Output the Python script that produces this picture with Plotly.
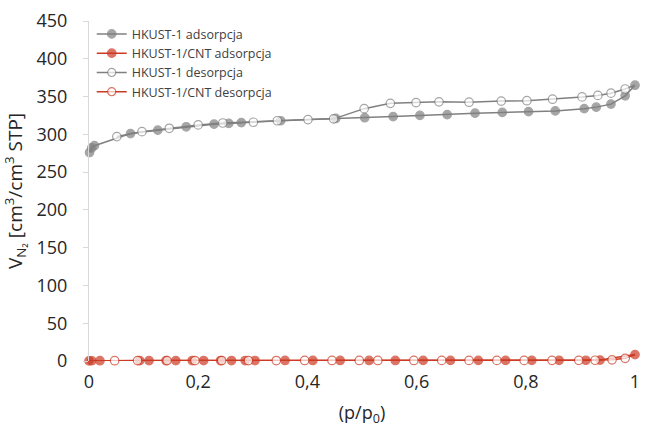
import plotly.graph_objects as go

# HKUST-1 adsorption
hk_ads_x = [0.001, 0.005, 0.01, 0.076, 0.126, 0.178, 0.229, 0.256, 0.279, 0.351, 0.452,
            0.505, 0.557, 0.606, 0.656, 0.707, 0.757, 0.805, 0.854, 0.907, 0.929, 0.956, 0.982, 1.0]
hk_ads_y = [276, 282, 285, 301, 305.5, 310, 313.5, 314.5, 315.5, 318, 321,
            322, 323.5, 325, 326, 328, 329, 330, 331, 334, 336, 340, 351, 365]
# HKUST-1 desorption (starts from the top point)
hk_des_x = [1.0, 0.982, 0.956, 0.932, 0.903, 0.849, 0.802, 0.755, 0.696, 0.641, 0.599, 0.552,
            0.504, 0.448, 0.401, 0.345, 0.301, 0.245, 0.2, 0.147, 0.097, 0.051]
hk_des_y = [365, 360, 354.5, 351.5, 349.5, 346.5, 344.5, 344, 342.5, 343, 342, 341,
            334, 320.5, 319.5, 318, 316, 315, 312.5, 308, 303.5, 297]
# HKUST-1/CNT adsorption
cnt_ads_x = [0.0, 0.005, 0.02, 0.093, 0.11, 0.141, 0.159, 0.189, 0.21, 0.241, 0.261, 0.286,
             0.304, 0.359, 0.41, 0.46, 0.513, 0.561, 0.612, 0.662, 0.713, 0.763, 0.811, 0.861,
             0.91, 0.936, 1.0]
cnt_ads_y = [0.2, 0.3, 0.4, 0.5, 0.5, 0.5, 0.5, 0.6, 0.6, 0.6, 0.6, 0.6,
             0.6, 0.7, 0.7, 0.7, 0.7, 0.7, 0.8, 0.8, 0.8, 0.8, 0.9, 0.9,
             1.0, 1.2, 8.5]
# HKUST-1/CNT desorption
cnt_des_x = [1.0, 0.982, 0.958, 0.927, 0.897, 0.848, 0.797, 0.747, 0.696, 0.646, 0.595, 0.529,
             0.495, 0.445, 0.395, 0.343, 0.292, 0.243, 0.194, 0.143, 0.089, 0.047]
cnt_des_y = [8.5, 3.5, 1.5, 1.0, 0.9, 0.9, 0.8, 0.8, 0.8, 0.8, 0.7, 0.7,
             0.7, 0.7, 0.7, 0.6, 0.6, 0.6, 0.6, 0.5, 0.5, 0.4]

x_ticks = [0, 0.2, 0.4, 0.6, 0.8, 1]
y_ticks = [0, 50, 100, 150, 200, 250, 300, 350, 400, 450]

GRAY = "#808080"
RED = "#cc3a24"
FONT = "Open Sans"

fig = go.Figure()

def add(name, x, y, color, filled, rank, skip_first=False):
    sizes = [8.5] * len(x)
    if skip_first:
        sizes[0] = 0
    fig.add_trace(go.Scatter(
        x=x, y=y, name=name, mode="lines+markers",
        line=dict(color=color, width=1.5),
        marker=dict(size=sizes, symbol="circle",
                    color=color if filled else "white",
                    line=dict(color=color, width=1.2)),
        cliponaxis=False, legendrank=rank,
    ))

add("HKUST-1 adsorpcja", hk_ads_x, hk_ads_y, GRAY, True, 1)
add("HKUST-1/CNT adsorpcja", cnt_ads_x, cnt_ads_y, RED, True, 2)
add("HKUST-1 desorpcja", hk_des_x, hk_des_y, GRAY, False, 3, skip_first=True)
add("HKUST-1/CNT desorpcja", cnt_des_x, cnt_des_y, RED, False, 4, skip_first=True)

fig.update_layout(
    width=648, height=431,
    margin=dict(l=89, r=8, t=20, b=70),
    paper_bgcolor="white", plot_bgcolor="white",
    separators=", ",
    font=dict(family=FONT, color="#262626"),
    showlegend=True,
    legend=dict(x=0.005, y=1.005, xanchor="left", yanchor="top",
                font=dict(size=12.5, color="#404040"),
                bgcolor="rgba(255,255,255,0)", tracegroupgap=0,
                itemwidth=30),
    xaxis=dict(range=[0, 1], tickvals=x_ticks, ticktext=[str(v).replace(".", ",") for v in x_ticks],
               showgrid=False, zeroline=False, showline=False,
               ticks="", ticklabelstandoff=8,
               tickfont=dict(size=18, family=FONT, color="#262626"),
               title=dict(text="(p/p<sub>0</sub>)", font=dict(size=18, family=FONT), standoff=14)),
    yaxis=dict(range=[0, 450], tickvals=y_ticks,
               showgrid=False, zeroline=False, showline=True, linecolor="#d9d9d9", linewidth=1,
               ticks="outside", ticklen=5, tickcolor="#d9d9d9", ticklabelstandoff=12,
               tickfont=dict(size=18, family=FONT, color="#262626"),
               title=dict(text="V<sub>N₂</sub> [cm<sup>3</sup>/cm<sup>3</sup> STP]",
                          font=dict(size=19, family=FONT), standoff=8)),
)

fig.write_html("out.html")
